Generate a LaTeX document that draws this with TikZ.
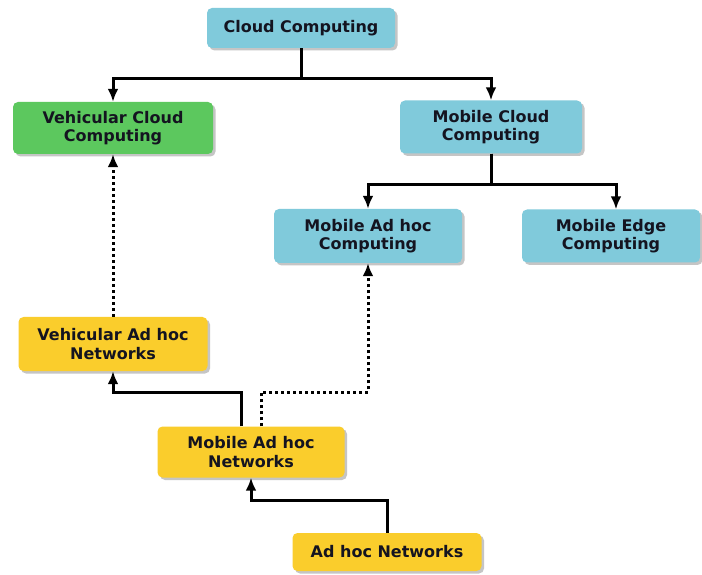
\documentclass[tikz,border=0pt]{standalone}
\usepackage{fontspec}
\setmainfont{DejaVu Sans}
\usetikzlibrary{arrows.meta,shadows}
\definecolor{netBlue}{HTML}{80CADB}
\definecolor{netGreen}{HTML}{5CC85E}
\definecolor{netGold}{HTML}{FACD2C}
\definecolor{netInk}{HTML}{141420}
\tikzset{
  net diagram/.style={
    x=1pt, y=1pt,
    every node/.style={font=\fontsize{16}{18.5}\selectfont\bfseries,
      text=netInk, align=center, inner sep=0pt}
  },
  net box/.style={rounded corners=5pt, minimum width=#1,
    drop shadow={shadow xshift=2.5pt, shadow yshift=-2.5pt, fill=black!45}},
  net link/.style={line width=3pt, draw=black,
    -{Latex[length=13pt,width=11pt]}},
  net guide/.style={net link, dash pattern=on 3pt off 3pt}
}

\begin{document}
\begin{tikzpicture}[net diagram]
    \useasboundingbox[fill=white] (0,0) rectangle (702,574);
    % cloud side
    \node[net box=188pt, fill=netBlue, minimum height=40pt] (cloud) at (301,546) {Cloud Computing};
    \node[net box=200pt, fill=netGreen, minimum height=52pt] (vcc) at (113,446) {Vehicular Cloud\\Computing};
    \node[net box=182pt, fill=netBlue, minimum height=53pt] (mcc) at (491,447) {Mobile Cloud\\Computing};
    \node[net box=188pt, fill=netBlue, minimum height=54pt] (mac) at (368,338) {Mobile Ad hoc\\Computing};
    \node[net box=178pt, fill=netBlue, minimum height=53pt] (mec) at (611,338) {Mobile Edge\\Computing};
    % network side
    \node[net box=189pt, fill=netGold, minimum height=54pt] (vanet) at (113,230) {Vehicular Ad hoc\\Networks};
    \node[net box=187pt, fill=netGold, minimum height=51pt] (manet) at (251,122) {Mobile Ad hoc\\Networks};
    \node[net box=189pt, fill=netGold, minimum height=38pt] (adhoc) at (387,22) {Ad hoc Networks};
    % links
    \draw[net link] (cloud.south) -- ++(0,-30) -| (vcc.north);
    \draw[net link] (cloud.south) -- ++(0,-30) -| (mcc.north);
    \draw[net link] (mcc.south) -- ++(0,-31) -| (mac.north);
    \draw[net link] (mcc.south) -- ++(0,-31) -| ([xshift=5pt]mec.north);
    \draw[net guide] (vanet.north) -- (vcc.south);
    \draw[net guide] ([xshift=10pt]manet.north) -- ++(0,34) -| (mac.south);
    \draw[net link] ([xshift=-10pt]manet.north) -- ++(0,34) -| (vanet.south);
    \draw[net link] (adhoc.north) -- ++(0,32) -| (manet.south);
  \end{tikzpicture}
\end{document}
